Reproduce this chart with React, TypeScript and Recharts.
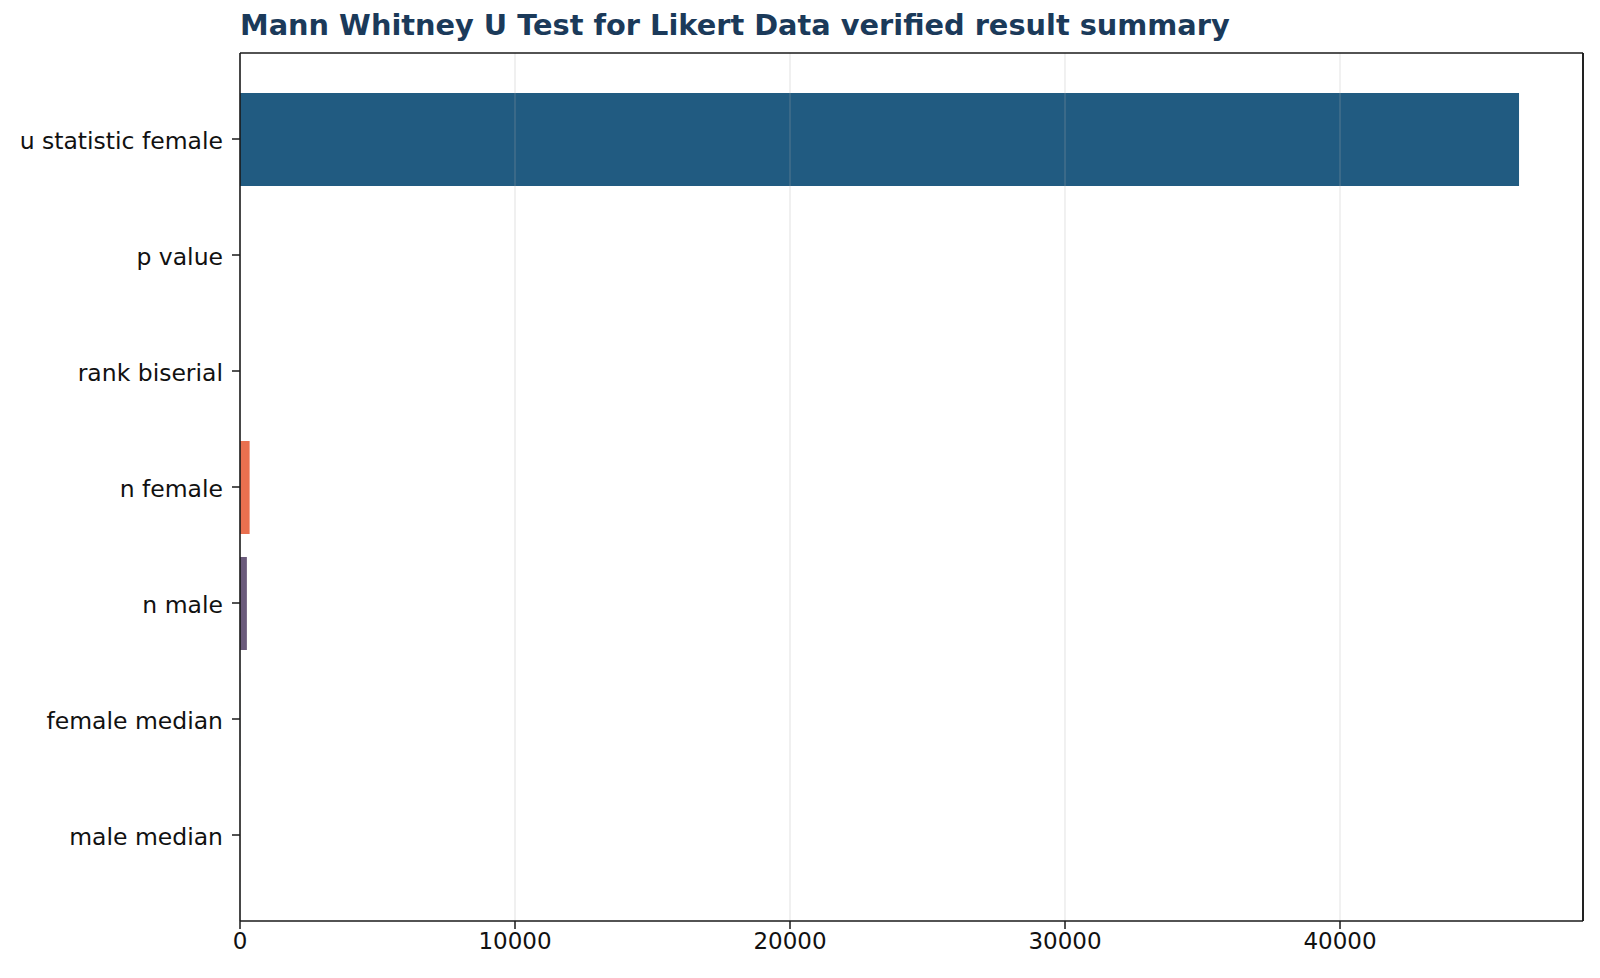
import { Bar, BarChart, Cell, ReferenceLine, XAxis, YAxis } from 'recharts'

const categories = [
  'u statistic female',
  'p value',
  'rank biserial',
  'n female',
  'n male',
  'female median',
  'male median',
]
const values = [46510, 0.21, 0.06, 350, 250, 4, 4]
const barColors = ['#215b81', '#2a9d8f', '#e9c46a', '#e9704f', '#6a5a7b', '#264653', '#f4a261']
const xTicks = [0, 10000, 20000, 30000, 40000]
const xMax = 48836

const data = categories.map((name, i) => ({ name, value: values[i] }))

const font = "'DejaVu Sans', sans-serif"
const frame = { stroke: '#1a1a1a', strokeWidth: 1.6 }

export default function App() {
  return (
    <div style={{ position: 'absolute', left: 0, top: 0, width: 1600, height: 978, background: '#fff' }}>
      <div
        style={{
          position: 'absolute',
          left: 240,
          top: 8,
          fontFamily: font,
          fontWeight: 'bold',
          fontSize: 28.8,
          color: '#1b3a5a',
          whiteSpace: 'nowrap',
        }}
      >
        Mann Whitney U Test for Likert Data verified result summary
      </div>
      <BarChart
        width={1600}
        height={978}
        data={data}
        layout='vertical'
        margin={{ top: 52, right: 16, bottom: 0, left: 0 }}
        barCategoryGap={0}
      >
        <XAxis
          type='number'
          domain={[0, xMax]}
          ticks={xTicks}
          height={57}
          axisLine={frame}
          tickLine={{ stroke: '#1a1a1a', strokeWidth: 1.5 }}
          tickSize={8}
          tickMargin={4}
          tick={{ fill: '#111', fontSize: 23, fontFamily: font }}
        />
        <XAxis
          xAxisId='top'
          orientation='top'
          type='number'
          domain={[0, xMax]}
          height={1}
          axisLine={frame}
          tick={false}
          tickLine={false}
        />
        <YAxis
          type='category'
          dataKey='name'
          width={240}
          padding={{ top: 28, bottom: 28 }}
          axisLine={frame}
          tickLine={{ stroke: '#1a1a1a', strokeWidth: 1.5 }}
          tickSize={8}
          tickMargin={9}
          tick={{ fill: '#111', fontSize: 23.5, fontFamily: font, dy: 2 }}
          interval={0}
        />
        <YAxis
          yAxisId='right'
          orientation='right'
          type='category'
          dataKey='name'
          width={1}
          axisLine={frame}
          tick={false}
          tickLine={false}
        />
        <Bar dataKey='value' barSize={93} isAnimationActive={false}>
          {data.map((d, i) => (
            <Cell key={d.name} fill={barColors[i]} />
          ))}
        </Bar>
        <Bar dataKey='none' xAxisId='top' yAxisId='right' isAnimationActive={false} legendType='none' />
        {xTicks.slice(1).map((t) => (
          <ReferenceLine key={t} x={t} stroke='#b0b0b0' strokeOpacity={0.3} strokeWidth={1.2} />
        ))}
        <ReferenceLine x={xMax} stroke='#1a1a1a' strokeWidth={1.6} />
      </BarChart>
    </div>
  )
}
